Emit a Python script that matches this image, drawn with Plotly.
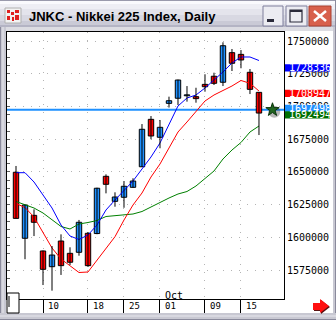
import plotly.graph_objects as go

W, H = 336, 320

# ---------------- data ----------------
dates = ['09-05', '09-06', '09-07', '09-10', '09-11', '09-12', '09-13', '09-14',
         '09-18', '09-19', '09-20', '09-21', '09-25', '09-26', '09-27', '09-28',
         '10-01', '10-02', '10-03', '10-04', '10-05', '10-09', '10-10', '10-11',
         '10-12', '10-15', '10-16', '10-17']
open_ = [1649800, 1599400, 1616900, 1589700, 1577700, 1597300, 1587900, 1588700,
         1603200, 1603000, 1646700, 1627600, 1630700, 1638300, 1654000, 1690200,
         1676500, 1702400, 1706300, 1708200, 1707500, 1716900, 1723100, 1718500,
         1741100, 1739800, 1726100, 1710800]
close = [1614600, 1624800, 1611600, 1575700, 1586600, 1578500, 1581100, 1611600,
         1578500, 1637600, 1640600, 1630900, 1639100, 1643100, 1682600, 1677500,
         1684100, 1704400, 1720200, 1708800, 1706000, 1715100, 1717700, 1746400,
         1733000, 1735500, 1713100, 1695000]
high = [1654600, 1625000, 1621500, 1590100, 1593500, 1602400, 1592500, 1613400,
        1604200, 1638000, 1648200, 1634500, 1643100, 1645200, 1686600, 1692700,
        1689700, 1707500, 1720500, 1715600, 1714300, 1724600, 1725800, 1749000,
        1743900, 1743100, 1728600, 1711000]
low = [1614600, 1583400, 1601100, 1563700, 1559400, 1571400, 1579000, 1586100,
       1577500, 1602500, 1633700, 1623500, 1622700, 1638000, 1653800, 1675000,
       1668100, 1699200, 1701100, 1703700, 1702900, 1711300, 1716400, 1715600,
       1727100, 1729200, 1709500, 1678200]
ma_blue = [1649460, 1649460, 1642360, 1632440, 1622510, 1609530, 1601140, 1598470,
           1601900, 1609530, 1620990, 1628620, 1636250, 1643120, 1652290, 1661450,
           1672130, 1685870, 1700380, 1706490, 1708780, 1714120, 1720230, 1726340,
           1733210, 1737790, 1737790, 1735110]
ma_red = [1625950, 1622890, 1615640, 1604190, 1591980, 1583580, 1578240, 1573270,
          1573660, 1582820, 1591980, 1600600, 1613350, 1624800, 1633960, 1646180,
          1656100, 1668320, 1680530, 1688170, 1695800, 1704200, 1708780, 1712210,
          1715650, 1719850, 1717710, 1711830]
ma_green = [1627470, 1625180, 1622510, 1618700, 1613730, 1608390, 1606480, 1610300,
            1611440, 1612970, 1616020, 1616790, 1617170, 1617930, 1619840, 1623280,
            1627090, 1630150, 1633200, 1635110, 1639310, 1645030, 1650760, 1659920,
            1666790, 1672520, 1680530, 1685110]
tick_idx = [3, 8, 12, 16, 21, 25]
tick_text = ['10', '18', '25', '01', '09', '15']
month_idx = 16
month_text = 'Oct'
y_ticks = [1575000, 1600000, 1625000, 1650000, 1675000, 1700000, 1725000, 1750000]
last_price = 1697498
ma_last = [1728336, 1708947, 1697498, 1692494]
ma_last_colors = ['#0000ff', '#ff0000', '#1e90ff', '#007000']
title = 'JNKC - Nikkei 225 Index, Daily'

# ---------------- geometry ----------------
PX_L, PX_R, PY_T, PY_B = 7, 284, 32, 299
XR = [-1, 29.78]
YR = [1553043, 1756871]
upp = (YR[1] - YR[0]) / (PY_B - PY_T)  # value units per pixel

BLUE = '#1e90ff'
RED = '#ff0000'
MONO = 'DejaVu Sans Mono'

idx = list(range(len(dates)))

fig = go.Figure()

# moving averages
for ma, col in [(ma_green, '#008000'), (ma_red, '#ff0000'), (ma_blue, '#0000ff')]:
    fig.add_trace(go.Scatter(x=idx, y=ma, mode='lines',
                             line=dict(color=col, width=1), hoverinfo='skip',
                             showlegend=False))

# wicks
wx, wy = [], []
for i in idx:
    wx += [i, i, None]
    wy += [low[i], high[i], None]
fig.add_trace(go.Scatter(x=wx, y=wy, mode='lines', line=dict(color='black', width=1),
                         hoverinfo='skip', showlegend=False))

# bodies
base = [min(o, c) for o, c in zip(open_, close)]
hgt = [max(abs(c - o), 700) for o, c in zip(open_, close)]
cols = [BLUE if c >= o else RED for o, c in zip(open_, close)]
fig.add_trace(go.Bar(x=idx, y=hgt, base=base, width=0.6,
                     marker=dict(color=cols, line=dict(color='black', width=1)),
                     hoverinfo='skip', showlegend=False))

# star marker (shadow + star)
sx = len(dates) + 0.5
fig.add_trace(go.Scatter(x=[sx + 0.2], y=[last_price - 2 * upp], mode='markers',
                         marker=dict(symbol='circle', size=12, color='rgba(50,50,50,0.35)',
                                     line=dict(width=0)),
                         hoverinfo='skip', showlegend=False, cliponaxis=False))
fig.add_trace(go.Scatter(x=[sx], y=[last_price], mode='markers',
                         marker=dict(symbol='star', size=10, color='#226622',
                                     line=dict(color='#0a330a', width=1)),
                         hoverinfo='skip', showlegend=False, cliponaxis=False))

# invisible trace for left minor-tick axis
fig.add_trace(go.Scatter(x=[0], y=[1700000], yaxis='y2', mode='markers',
                         marker=dict(opacity=0), hoverinfo='skip', showlegend=False))

shapes = []
annotations = []


def prect(x0, y0, x1, y1, fill, line=None, lw=0):
    shapes.append(dict(type='rect', xref='paper', yref='paper',
                       x0=x0 / W, x1=x1 / W, y0=1 - y1 / H, y1=1 - y0 / H,
                       fillcolor=fill, line=dict(color=line or fill, width=lw),
                       layer='above'))


def pline(x0, y0, x1, y1, col, lw=1):
    shapes.append(dict(type='line', xref='paper', yref='paper',
                       x0=x0 / W, x1=x1 / W, y0=1 - y0 / H, y1=1 - y1 / H,
                       line=dict(color=col, width=lw), layer='above'))


def ppath(pts, fill, line=None, lw=0):
    d = 'M ' + ' L '.join(f'{x / W:.5f},{1 - y / H:.5f}' for x, y in pts) + ' Z'
    shapes.append(dict(type='path', xref='paper', yref='paper', path=d,
                       fillcolor=fill, line=dict(color=line or fill, width=lw),
                       layer='above'))


# last price line
shapes.append(dict(type='line', xref='x domain', yref='y', x0=0, x1=1,
                   y0=last_price, y1=last_price,
                   line=dict(color=BLUE, width=2), layer='below'))

# ---- window frame ----
bands = [(0, 1, '#9a9aac'), (1, 4, '#fafafd'), (4, 9, '#eeeef4'), (9, 15, '#e4e4ec'),
         (15, 21, '#d8d8e2'), (21, 25, '#cacad6'), (25, 27, '#b4b4c4'), (27, 31, '#dcdce2')]
for y0, y1, c in bands:
    prect(0, y0, W, y1, c)
prect(0, 27, 6, H, '#c8c8d2')
pline(0.5, 27, 0.5, H, '#8a8a9c', 1)
pline(3, 27, 3, H, '#e8e8ee', 1)
prect(333, 27, W, H, '#c8c8d2')
pline(335.5, 0, 335.5, H, '#8a8a9c', 1)
prect(0, 313, W, H, '#c8c8d2')
pline(0, 316, W, 316, '#e8e8ee', 1)
pline(0, 319.5, W, 319.5, '#8a8a9c', 1)

# icon
prect(5, 8, 21, 23, '#f2f2f2', '#b0b0b0', 1)
for (a, b, c_, d) in [(7, 10, 10, 13), (11, 12, 14, 15), (15, 10, 19, 13),
                      (7, 16, 10, 20), (12, 17, 14, 21), (15, 15, 19, 20)]:
    prect(a, b, c_, d, '#e02020')

# buttons
prect(263, 6, 283, 26, '#ececf2', '#7f7f9c', 1)
prect(267, 19, 274, 22, '#2a2a3a')
prect(286, 6, 307, 26, '#ececf2', '#7f7f9c', 1)
prect(290, 10, 302, 22, 'rgba(0,0,0,0)', '#2a2a3a', 1.2)
prect(290, 10, 302, 12, '#2a2a3a')
prect(309, 6, 331, 26, '#d8604c', '#a84030', 1)
pline(314, 11, 326, 21, 'white', 2.5)
pline(326, 11, 314, 21, 'white', 2.5)

# bottom-left scroll box
prect(7, 293, 19, 313, 'white', 'black', 1)
pline(9, 296, 9, 307, 'black', 1)

# red arrow
ppath([(314, 304), (321, 304), (321, 300), (330, 307), (321, 314), (321, 311), (314, 311)],
      '#5a1010')
ppath([(313, 303), (320, 303), (320, 299), (329, 306), (320, 313), (320, 310), (313, 310)],
      '#ff1010')

# right-side value labels (MA / last price)
for v, c in zip(ma_last, ma_last_colors):
    yc = v + 1.5 * upp
    shapes.append(dict(type='rect', xref='paper', yref='y', x0=285 / W, x1=330 / W,
                       y0=yc - 3.6 * upp, y1=yc + 3.6 * upp, fillcolor=c,
                       line=dict(width=0), layer='above'))
    annotations.append(dict(xref='paper', yref='y', x=286.5 / W, y=yc, text=str(v),
                            showarrow=False, xanchor='left', yanchor='middle',
                            font=dict(family=MONO, size=10, color='white')))

# title
annotations.append(dict(xref='paper', yref='paper', x=27 / W, y=1 - 16 / H,
                        text='<b>' + title + '</b>',
                        showarrow=False, xanchor='left', yanchor='middle',
                        font=dict(family='Liberation Sans', size=13, color='black')))

# date labels
for i, t in zip(tick_idx, tick_text):
    annotations.append(dict(xref='x', yref='paper', x=i + 0.38, y=1 - 306 / H, text=t,
                            showarrow=False, xanchor='left', yanchor='middle',
                            font=dict(family=MONO, size=9, color='black')))
annotations.append(dict(xref='x', yref='paper', x=month_idx + 0.3, y=1 - 295 / H,
                        text=month_text, showarrow=False, xanchor='left', yanchor='middle',
                        font=dict(family=MONO, size=10, color='black')))

fig.update_layout(
    width=W, height=H, margin=dict(l=0, r=0, t=0, b=0),
    paper_bgcolor='white', plot_bgcolor='white',
    showlegend=False, hovermode=False,
    xaxis=dict(domain=[PX_L / W, PX_R / W], range=XR, tickvals=tick_idx,
               showticklabels=False, ticks='outside', ticklen=14, tickwidth=1,
               tickcolor='black', showline=True, linecolor='black', linewidth=1,
               mirror=True, showgrid=True, gridcolor='#b4b4b4', gridwidth=1,
               griddash='1px,7px', zeroline=False, fixedrange=True),
    yaxis=dict(domain=[1 - PY_B / H, 1 - PY_T / H], range=YR, side='right',
               tickvals=y_ticks, ticktext=[str(v) for v in y_ticks],
               tickfont=dict(family=MONO, size=10, color='black'), ticks='',
               showline=True, linecolor='black', linewidth=1, mirror=True,
               showgrid=True, gridcolor='#b4b4b4', gridwidth=1, griddash='1px,7px',
               zeroline=False, fixedrange=True),
    yaxis2=dict(overlaying='y', side='left', anchor='x', range=YR,
                tick0=1750000, dtick=6250, ticks='inside', ticklen=3,
                tickcolor='#606060', showticklabels=False, showgrid=False,
                zeroline=False, showline=False, fixedrange=True),
    shapes=shapes, annotations=annotations,
)

fig.write_html('out.html')
